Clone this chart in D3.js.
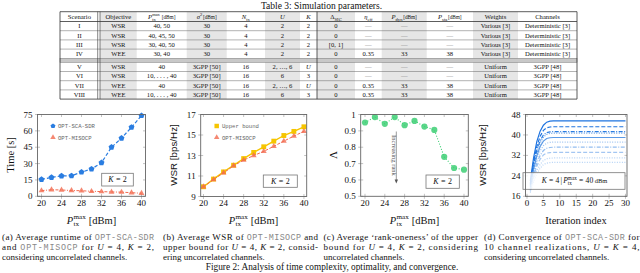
<!DOCTYPE html>
<html><head><meta charset="utf-8">
<script src="https://cdn.jsdelivr.net/npm/d3@7"></script>
<style>body{margin:0;background:#fff} svg{display:block}</style>
</head><body>
<svg id="c" width="640" height="273"></svg>
<script>
const serif = "'Liberation Serif','DejaVu Serif',serif";
const sans = "'Liberation Sans',Arial,sans-serif";
const mono = "'Liberation Mono','DejaVu Sans Mono',monospace";

// ---------------- DATA ----------------
const tableTitle = "Table 3: Simulation parameters.";
const tableRows = [
  ["I","WSR","40, 50","30","4","2","2","0","—","—","—","Various [3]","Deterministic [3]"],
  ["II","WSR","40, 45, 50","30","4","2","2","0","—","—","—","Various [3]","Deterministic [3]"],
  ["III","WSR","30, 40, 50","30","4","2","2","[0, 1]","—","—","—","Various [3]","Deterministic [3]"],
  ["IV","WEE","30, 40","30","4","2","2","0","0.35","33","38","Various [3]","Deterministic [3]"],
  ["V","WSR","40","3GPP [50]","16","2, …, 6","U","0","—","—","—","Uniform","3GPP [48]"],
  ["VI","WSR","10, . . . , 40","3GPP [50]","16","6","3","0","—","—","—","Uniform","3GPP [48]"],
  ["VII","WEE","40","3GPP [50]","16","2, …, 6","U","0","0.35","33","38","Uniform","3GPP [48]"],
  ["VIII","WEE","10, . . . , 40","3GPP [50]","16","6","3","0","0.35","33","38","Uniform","3GPP [48]"]
];
const ptxValues = [20,22,24,26,28,30,32,34,36,38,40];
const runtimeSCA = [15.5,17.3,18.7,18.8,22.2,25.0,30.8,45.0,53.3,63.3,74.0];
const runtimeMISOCP = [5.2,6.0,5.8,5.3,5.1,4.6,4.3,4.0,3.8,3.3,2.8];
const wsrUpper = [9.95,10.7,11.4,12.05,12.7,13.3,13.85,14.4,14.95,15.35,15.8];
const wsrMISOCP = [9.95,10.65,11.3,12.0,12.55,13.0,13.4,13.9,14.4,14.9,15.35];
const rankOneness = [0.951,0.984,0.943,0.984,0.935,0.961,0.926,0.906,0.741,0.673,0.663];
const iterations = [1,2,3,4,5,6,7,8,9,10,30];
const convSeries = [
  [22.0,31.0,37.5,41.5,43.8,45.0,45.4,45.5,45.5,45.5,45.5],
  [21.0,29.5,35.5,39.5,41.8,42.8,43.1,43.2,43.2,43.2,43.2],
  [20.5,28.5,34.0,37.8,40.0,40.9,41.2,41.3,41.3,41.3,41.3],
  [20.0,27.5,33.0,36.8,39.2,40.2,40.6,40.7,40.7,40.7,40.7],
  [19.5,26.5,31.8,35.5,37.6,38.6,38.9,39.0,39.0,39.0,39.0],
  [19.0,25.5,30.5,33.8,35.8,36.8,37.1,37.2,37.2,37.2,37.2],
  [18.5,24.5,29.0,32.0,33.9,34.8,35.1,35.2,35.2,35.2,35.2],
  [18.5,23.5,27.8,30.5,32.2,32.9,33.1,33.2,33.2,33.2,33.2],
  [18.0,22.5,26.0,28.5,30.0,30.7,30.9,31.0,31.0,31.0,31.0],
  [17.5,21.5,24.8,27.0,28.4,29.0,29.2,29.3,29.3,29.3,29.3]
];
const ticksA = [0,15,30,45,60,75];
const ticksB = [9,11,13,15,17];
const ticksC = [0.5,0.6,0.7,0.8,0.9,1];
const ticksD = [16,24,32,40,48];
const ticksPtx = [20,24,28,32,36,40];
const ticksIter = [0,5,10,15,20,25,30];
const figCaption = "Figure 2: Analysis of time complexity, optimality, and convergence.";

// ---------------- HELPERS ----------------
const svg = d3.select("#c");

function rich(g, cx, y, segs, base, anchor) {
  const grp = g.append("g");
  let x = 0, lastX = 0;
  segs.forEach(s => {
    const fs = base * (s.scale || 1);
    const dy = s.pos === "sup" ? -base*0.4 : s.pos === "sub" ? base*0.28 : 0;
    const px = s.stack ? lastX : x + (s.gap || 0) * base;
    const t = grp.append("text").attr("x", px).attr("y", y + dy)
      .style("font-family", s.font || serif).style("font-size", fs + "px")
      .style("font-style", s.it ? "italic" : "normal")
      .attr("fill", s.fill || "#111").text(s.t);
    const w = t.node().getComputedTextLength();
    if (s.stack) x = Math.max(x, px + w); else { lastX = px; x = px + w; }
  });
  const off = anchor === "start" ? 0 : x / 2;
  grp.attr("transform", `translate(${cx - off},0)`);
  return grp;
}
const ptxSegs = (unitScale) => [
  {t:"P", it:true},
  {t:"max", pos:"sup", scale:0.68, gap:0.03},
  {t:"tx", pos:"sub", scale:0.68, stack:true},
  {t:"[dBm]", gap:0.28, scale:unitScale||1}
];

function frame(g, x, y, xt, yt, yfmt) {
  const [x0, x1] = x.range(), [yb, yt0] = y.range();
  const tk = g.append("g").attr("stroke", "#9a9a9a").attr("stroke-width", 0.6);
  tk.selectAll(null).data(yt).join("line")
    .attr("x1", x0 - 2.5).attr("x2", x0 + 2.5).attr("y1", d => y(d)).attr("y2", d => y(d));
  tk.selectAll(null).data(yt).join("line")
    .attr("x1", x1 - 2.5).attr("x2", x1).attr("y1", d => y(d)).attr("y2", d => y(d));
  tk.selectAll(null).data(xt).join("line")
    .attr("y1", yb + 2.5).attr("y2", yb - 2.5).attr("x1", d => x(d)).attr("x2", d => x(d));
  tk.selectAll(null).data(xt).join("line")
    .attr("y1", yt0).attr("y2", yt0 + 2.5).attr("x1", d => x(d)).attr("x2", d => x(d));
  g.selectAll(null).data(yt).join("text")
    .attr("x", x0 - 5).attr("y", d => y(d) + 3).attr("text-anchor", "end")
    .style("font-family", serif).style("font-size", "9px").attr("fill", "#111")
    .text(d => yfmt ? yfmt(d) : d);
  g.selectAll(null).data(xt).join("text")
    .attr("x", d => x(d)).attr("y", yb + 9.8).attr("text-anchor", "middle")
    .style("font-family", serif).style("font-size", "9px").attr("fill", "#111").text(d => d);
}
function border(g, x, y) {
  const [x0, x1] = x.range(), [yb, yt0] = y.range();
  g.append("rect").attr("x", x0).attr("y", yt0).attr("width", x1 - x0).attr("height", yb - yt0)
    .attr("fill", "none").attr("stroke", "#666").attr("stroke-width", 0.9);
}
function kbox(g, x0, y0, w, h) {
  g.append("rect").attr("x", x0).attr("y", y0).attr("width", w).attr("height", h)
    .attr("fill", "#fff").attr("stroke", "#777").attr("stroke-width", 0.8);
  rich(g, x0 + w/2, y0 + h/2 + 2.8, [{t:"K", it:true},{t:"=", gap:0.3},{t:"2", gap:0.3}], 8);
}
function pentagon(r) {
  const p = d3.range(5).map(i => { const a = -Math.PI/2 + i*2*Math.PI/5; return [r*Math.cos(a), r*Math.sin(a)]; });
  return "M" + p.join("L") + "Z";
}
function ylab(g, x, y, text, font, fs) {
  g.append("text").attr("transform", `translate(${x},${y}) rotate(-90)`).attr("text-anchor", "middle")
    .style("font-family", font).style("font-size", fs + "px").attr("fill", "#111").text(text);
}

// ---------------- TABLE ----------------
svg.append("text").attr("x", 321.5).attr("y", 9.2).attr("text-anchor", "middle")
  .style("font-family", serif).style("font-size", "9.5px").attr("fill", "#111").text(tableTitle);

const T = svg.append("g");
const edges = [60, 98.8, 136.7, 186.7, 226.7, 265, 300, 317, 355, 381.7, 426.7, 473, 518, 577];
const headTop = 11.7, headBot = 21.5, rowH = 9.2, band = 4;
const rowTop = i => headBot + i * rowH + (i >= 4 ? band : 0);
const tableBottom = rowTop(8);
[1,3,5,7,9,11].forEach(c => {
  const xs = c === 1 ? 100 : edges[c];
  T.append("rect").attr("x", xs).attr("y", headTop).attr("width", edges[c+1] - xs)
    .attr("height", tableBottom - headTop).attr("fill", "#e6e6e6");
});
T.append("rect").attr("x", 60).attr("y", rowTop(4) - band).attr("width", 517).attr("height", band)
  .attr("fill", "#c8c8c8").attr("stroke", "#777").attr("stroke-width", 0.5);
const hl = [headTop, headBot, rowTop(1), rowTop(2), rowTop(3), rowTop(5), rowTop(6), rowTop(7), tableBottom];
T.selectAll(null).data(hl).join("line").attr("x1", 60).attr("x2", 577)
  .attr("y1", d => d).attr("y2", d => d)
  .attr("stroke", (d,i) => (i < 2 || i === hl.length-1) ? "#333" : "#666")
  .attr("stroke-width", (d,i) => (i < 2 || i === hl.length-1) ? 0.8 : 0.5);
[[60,0.8],[577,0.8],[97.7,0.6],[100,0.6],[317,0.8]].forEach(([x,w]) =>
  T.append("line").attr("x1", x).attr("x2", x).attr("y1", headTop).attr("y2", tableBottom)
    .attr("stroke", "#333").attr("stroke-width", w));
const hy = 19;
const cx = c => c === 1 ? (100 + edges[2]) / 2 : (edges[c] + edges[c+1]) / 2;
const hs = 6.6;
const headerSpecs = [
  [{t:"Scenario"}],
  [{t:"Objective"}],
  ptxSegs(0.8),
  [{t:"σ", it:true},{t:"2", pos:"sup", scale:0.7},{t:"[dBm]", scale:0.8, gap:0.1}],
  [{t:"N", it:true},{t:"tx", pos:"sub", scale:0.7}],
  [{t:"U", it:true}],
  [{t:"K", it:true}],
  [{t:"Δ"},{t:"SIC", pos:"sub", scale:0.7}],
  [{t:"η", it:true},{t:"eff", pos:"sub", scale:0.7}],
  [{t:"P", it:true},{t:"dyn", pos:"sub", scale:0.7},{t:"[dBm]", scale:0.8, gap:0.1}],
  [{t:"P", it:true},{t:"sta", pos:"sub", scale:0.7},{t:"[dBm]", scale:0.8, gap:0.1}],
  [{t:"Weights"}],
  [{t:"Channels"}]
];
headerSpecs.forEach((s, c) => rich(T, cx(c), hy, s, hs));
tableRows.forEach((row, r) => {
  const y = rowTop(r) + rowH/2 + 2.3;
  row.forEach((v, c) => {
    const dash = v === "—";
    T.append("text").attr("x", cx(c)).attr("y", y).attr("text-anchor", "middle")
      .style("font-family", serif).style("font-size", "6.6px")
      .style("font-style", v === "U" ? "italic" : "normal")
      .attr("fill", dash ? "#888" : "#111").text(v);
  });
});

// ---------------- CHART A ----------------
const gA = svg.append("g");
const xA = d3.scaleLinear().domain([19.2, 40.8]).range([37.5, 145.5]);
const yA = d3.scaleLinear().domain([0, 75]).range([196.3, 114.5]);
frame(gA, xA, yA, ticksPtx, ticksA);
const blue = "#2a7de1", red = "#f26a4f", gold = "#f6c500", green = "#3dcf74";
gA.append("path").datum(ptxValues.map((p,i)=>[p, runtimeMISOCP[i]]))
  .attr("d", d3.line().x(d=>xA(d[0])).y(d=>yA(d[1]))).attr("fill","none")
  .attr("stroke", red).attr("stroke-width", 1).attr("stroke-dasharray", "3,1.5,1,1.5");
gA.selectAll(null).data(ptxValues).join("path")
  .attr("transform", (d,i) => `translate(${xA(d)},${yA(runtimeMISOCP[i])})`)
  .attr("d", d3.symbol(d3.symbolTriangle, 15)()).attr("fill", red).attr("fill-opacity", 0.8);
gA.append("path").datum(ptxValues.map((p,i)=>[p, runtimeSCA[i]]))
  .attr("d", d3.line().x(d=>xA(d[0])).y(d=>yA(d[1]))).attr("fill","none")
  .attr("stroke", blue).attr("stroke-width", 1.2).attr("stroke-dasharray", "3.5,2");
gA.selectAll(null).data(ptxValues).join("path")
  .attr("transform", (d,i) => `translate(${xA(d)},${yA(runtimeSCA[i])})`)
  .attr("d", pentagon(3.1)).attr("fill", blue);
border(gA, xA, yA);
gA.append("path").attr("transform","translate(53,126)").attr("d", pentagon(2.6)).attr("fill", blue);
gA.append("path").attr("transform","translate(53,137.5)").attr("d", d3.symbol(d3.symbolTriangle, 13)()).attr("fill", red).attr("fill-opacity",0.8);
gA.append("text").attr("x",58).attr("y",128).style("font-family",mono).style("font-size","5.6px").attr("fill","#666").text("OPT-SCA-SDR");
gA.append("text").attr("x",58).attr("y",139.5).style("font-family",mono).style("font-size","5.6px").attr("fill","#666").text("OPT-MISOCP");
kbox(gA, 101.7, 173.3, 31.6, 12.7);
ylab(gA, 13.5, 155, "Time [s]", serif, 10.5);
rich(gA, 91.5, 223.5, ptxSegs(), 10.5);

// ---------------- CHART B ----------------
const gB = svg.append("g");
const xB = d3.scaleLinear().domain([19.45, 40.55]).range([200.7, 306.7]);
const yB = d3.scaleLinear().domain([9, 17]).range([196.5, 114.5]);
frame(gB, xB, yB, ticksPtx, ticksB);
gB.append("path").datum(ptxValues.map((p,i)=>[p, wsrUpper[i]]))
  .attr("d", d3.line().x(d=>xB(d[0])).y(d=>yB(d[1]))).attr("fill","none")
  .attr("stroke", gold).attr("stroke-width", 1.4);
gB.selectAll(null).data(ptxValues).join("path")
  .attr("transform", (d,i) => `translate(${xB(d)},${yB(wsrUpper[i])})`)
  .attr("d", d3.symbol(d3.symbolSquare, 24)()).attr("fill", gold);
gB.append("path").datum(ptxValues.map((p,i)=>[p, wsrMISOCP[i]]))
  .attr("d", d3.line().x(d=>xB(d[0])).y(d=>yB(d[1]))).attr("fill","none")
  .attr("stroke", red).attr("stroke-width", 1).attr("stroke-dasharray", "3,1.5");
gB.selectAll(null).data(ptxValues).join("path")
  .attr("transform", (d,i) => `translate(${xB(d)},${yB(wsrMISOCP[i])})`)
  .attr("d", d3.symbol(d3.symbolTriangle, 15)()).attr("fill", red).attr("fill-opacity", 0.8);
border(gB, xB, yB);
gB.append("path").attr("transform","translate(216.7,126)").attr("d", d3.symbol(d3.symbolSquare, 20)()).attr("fill", gold);
gB.append("path").attr("transform","translate(216.7,137.5)").attr("d", d3.symbol(d3.symbolTriangle, 13)()).attr("fill", red).attr("fill-opacity",0.8);
gB.append("text").attr("x",222).attr("y",128).style("font-family",mono).style("font-size","5.6px").attr("fill","#666").text("Upper bound");
gB.append("text").attr("x",222).attr("y",139.5).style("font-family",mono).style("font-size","5.6px").attr("fill","#666").text("OPT-MISOCP");
kbox(gB, 263.3, 175, 34, 12.3);
ylab(gB, 176.5, 155, "WSR [bps/Hz]", sans, 9.8);
rich(gB, 253.5, 223.5, ptxSegs(), 10.5);

// ---------------- CHART C ----------------
const gC = svg.append("g");
const xC = d3.scaleLinear().domain([19.13, 40.87]).range([360.7, 468.3]);
const yC = d3.scaleLinear().domain([0.5, 1]).range([196.3, 114.5]);
frame(gC, xC, yC, ticksPtx, ticksC, d => d === 1 ? "1" : d3.format(".1f")(d));
gC.append("path").datum(ptxValues.map((p,i)=>[p, rankOneness[i]]))
  .attr("d", d3.line().x(d=>xC(d[0])).y(d=>yC(d[1]))).attr("fill","none")
  .attr("stroke", green).attr("stroke-width", 1.1).attr("stroke-dasharray", "1,1.8");
gC.selectAll(null).data(ptxValues).join("circle")
  .attr("cx", d => xC(d)).attr("cy", (d,i) => yC(rankOneness[i])).attr("r", 3.1)
  .attr("fill", green).attr("fill-opacity", 0.85);
border(gC, xC, yC);
gC.append("line").attr("x1", 396.3).attr("x2", 396.3).attr("y1", 131.5).attr("y2", 181)
  .attr("stroke", "#555").attr("stroke-width", 0.6);
gC.append("path").attr("d", "M394.6,179.5L396.3,183.5L398,179.5Z").attr("fill", "#555");
gC.append("text").attr("transform", "translate(391.5,155.5) rotate(90)").attr("text-anchor","middle")
  .style("font-family", serif).style("font-size", "6.6px").attr("fill", "#555").text("Increasing rank");
kbox(gC, 426, 175, 33.3, 13.3);
gC.append("text").attr("transform", "translate(337,155) rotate(-90)").attr("text-anchor","middle")
  .style("font-family", serif).style("font-size", "11px").attr("fill", "#111").text("Λ");
rich(gC, 414.5, 223.5, ptxSegs(), 10.5);

// ---------------- CHART D ----------------
const gD = svg.append("g");
const xD = d3.scaleLinear().domain([-0.46, 30.46]).range([525.5, 627]);
const yD = d3.scaleLinear().domain([16, 48]).range([196.3, 114.5]);
frame(gD, xD, yD, ticksIter, ticksD);
const cols = ["#1f74e0","#1f74e0","#2a7de1","#5b9ae6","#5b9ae6","#9cc3f1","#93bdf0","#a3c6f2","#b5d2f5","#b5d2f5"];
const dashes = [null, "4,2", "4,1.5,1,1.5", "1,1.5", null, "1,1.5", "4,1.5,1,1.5", "4,2", "1,1.5", "1,1.5"];
gD.append("clipPath").attr("id","clipD").append("rect")
  .attr("x", 525.5).attr("y", 114.5).attr("width", 101.5).attr("height", 81.8);
const lineD = d3.line().x((d,i)=>xD(iterations[i])).y(d=>yD(d));
gD.append("g").attr("clip-path","url(#clipD)").selectAll(null).data(convSeries.slice().reverse()).join("path")
  .attr("d", lineD).attr("fill","none")
  .attr("stroke", (d,i) => cols[9-i]).attr("stroke-width", 1.2)
  .attr("stroke-dasharray", (d,i) => dashes[9-i]);
gD.append("rect").attr("x", 523).attr("y", 172.7).attr("width", 102).attr("height", 16.6)
  .attr("fill", "#fff").attr("fill-opacity", 0.8).attr("stroke", "#777").attr("stroke-width", 0.8);
rich(gD, 574.5, 183.3, [{t:"K", it:true},{t:"=", gap:0.3},{t:"4", gap:0.3},{t:"|", gap:0.15},
  {t:"P", it:true, gap:0.15},{t:"max", pos:"sup", scale:0.68},{t:"tx", pos:"sub", scale:0.68, stack:true},
  {t:"=", gap:0.3},{t:"40", gap:0.3},{t:"dBm", gap:0.2, scale:0.85}], 7.6);
border(gD, xD, yD);
ylab(gD, 485.5, 155, "WSR [bps/Hz]", sans, 9.8);
gD.append("text").attr("x", 576).attr("y", 223.5).attr("text-anchor","middle")
  .style("font-family", serif).style("font-size", "10.5px").attr("fill","#111").text("Iteration index");

// ---------------- CAPTIONS ----------------
const capFs = 9;
function capLine(x, y, width, segs, justify) {
  const t = svg.append("text").attr("x", x).attr("y", y).style("font-family", serif)
    .style("font-size", capFs + "px").attr("fill", "#111");
  segs.forEach(s => {
    const o = typeof s === "string" ? {t:s} : s;
    t.append("tspan").text(o.t).style("font-family", o.m ? mono : serif)
      .style("font-style", o.it ? "italic" : "normal")
      .style("font-size", (o.m ? 8.4 : capFs) + "px")
      .attr("fill", o.m ? "#888" : "#111");
  });
  if (justify) t.attr("textLength", width).attr("lengthAdjust", "spacing");
}
const caps = [
  {x:2, w:152, lines:[
    ["(a) Average runtime of ", {t:"OPT-SCA-SDR", m:1}],
    ["and ", {t:"OPT-MISOCP", m:1}, " for ", {t:"U", it:1}, " = 4, ", {t:"K", it:1}, " = 2,"],
    ["considering uncorrelated channels."]]},
  {x:163, w:155, lines:[
    ["(b) Average WSR of ", {t:"OPT-MISOCP", m:1}, " and"],
    ["upper bound for ", {t:"U", it:1}, " = 4, ", {t:"K", it:1}, " = 2, consid-"],
    ["ering uncorrelated channels."]]},
  {x:323.5, w:154.5, lines:[
    ["(c) Average ‘rank-oneness’ of the upper"],
    ["bound for ", {t:"U", it:1}, " = 4, ", {t:"K", it:1}, " = 2, considering"],
    ["uncorrelated channels."]]},
  {x:484, w:155.5, lines:[
    ["(d) Convergence of ", {t:"OPT-SCA-SDR", m:1}, " for"],
    ["10 channel realizations, ", {t:"U", it:1}, " = ", {t:"K", it:1}, " = 4,"],
    ["considering uncorrelated channels."]]}
];
const capY = [239.5, 250, 260.3];
caps.forEach(c => c.lines.forEach((l, i) => capLine(c.x, capY[i], c.w, l, i < 2)));
svg.append("text").attr("x", 332).attr("y", 270).attr("text-anchor", "middle")
  .style("font-family", serif).style("font-size", "9.3px").attr("fill", "#111").text(figCaption);
</script>
</body></html>
